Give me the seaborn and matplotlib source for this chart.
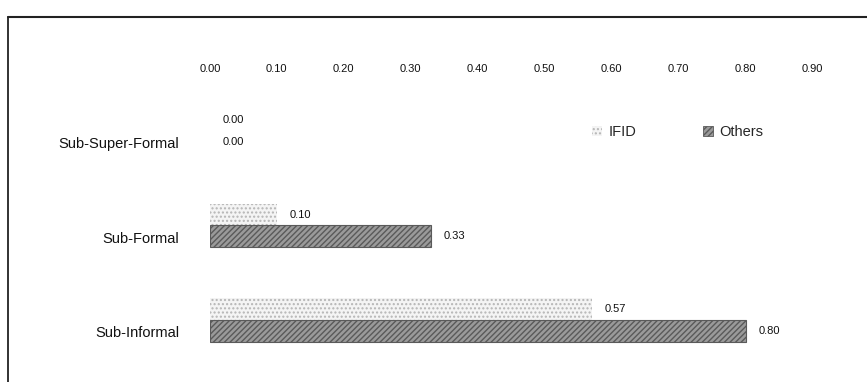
import matplotlib
matplotlib.use("Agg")
import matplotlib.pyplot as plt
import matplotlib.transforms as mtransforms
from matplotlib.lines import Line2D
from matplotlib.patches import Patch
import pandas as pd
import seaborn as sns

# data
categories = ["Sub-Super-Formal", "Sub-Formal", "Sub-Informal"]
series = ["IFID", "Others"]
ifid_vals = [0.00, 0.10, 0.57]
others_vals = [0.00, 0.33, 0.80]
x_ticks = [0.00, 0.10, 0.20, 0.30, 0.40, 0.50, 0.60, 0.70, 0.80, 0.90]

df = pd.DataFrame({
    "category": categories * 2,
    "series": ["IFID"] * 3 + ["Others"] * 3,
    "value": ifid_vals + others_vals,
})

sns.set_style("white")
plt.rcParams["font.family"] = ["Liberation Sans", "DejaVu Sans"]

fig = plt.figure(figsize = (8.67, 3.82), dpi = 100)
ax = fig.add_axes([0.242, 0.014, 0.734, 0.777])

sns.barplot(data = df, y = "category", x = "value", hue = "series", orient = "h",
            order = categories, hue_order = series, width = 0.46,
            palette = {"IFID": "#f4f4f4", "Others": "#9a9a9a"},
            legend = False, ax = ax)

# hatch styles to mimic the printed fills
styles = {
    "IFID": dict(hatch = "....", edgecolor = "#b5b5b5", linewidth = 0),
    "Others": dict(hatch = "//////", edgecolor = "#5a5a5a", linewidth = 0.8),
}
for cont, name in zip(ax.containers, series):
    for p in cont:
        p.set_hatch(styles[name]["hatch"])
        p.set_edgecolor(styles[name]["edgecolor"])
        # zero-length bars should not leave a stray edge line
        p.set_linewidth(styles[name]["linewidth"] if p.get_width() > 0 else 0)
    ax.bar_label(cont, fmt = "%.2f", padding = 9, fontsize = 8, color = "#111111")

ax.set_xlim(0, 0.95)
ax.set_ylim(2.6, -0.54)
ax.xaxis.tick_top()
ax.set_xticks(x_ticks)
ax.set_xticklabels([f"{t:.2f}" for t in x_ticks], fontsize = 8, color = "#111111")
ax.tick_params(axis = "x", length = 0, pad = 4)
ax.tick_params(axis = "y", length = 0, pad = 22, labelsize = 10.5, labelcolor = "#111111")
ax.set_xlabel("")
ax.set_ylabel("")
for s in ax.spines.values():
    s.set_visible(False)

# category labels sit a little low in the original
shift = mtransforms.ScaledTranslation(0, -12 / 100, fig.dpi_scale_trans)
for lbl in ax.get_yticklabels():
    lbl.set_transform(lbl.get_transform() + shift)

handles = [
    Patch(facecolor = "#f4f4f4", edgecolor = "#b5b5b5", hatch = "....", linewidth = 0, label = "IFID"),
    Patch(facecolor = "#9a9a9a", edgecolor = "#5a5a5a", hatch = "//////", linewidth = 0.6, label = "Others"),
]
fig.legend(handles = handles, loc = "center left", bbox_to_anchor = (0.668, 0.655),
           ncol = 2, frameon = False, fontsize = 10.5, handlelength = 0.7, handleheight = 0.7,
           handletextpad = 0.4, columnspacing = 4.6)

# page frame (top and left edge of the scanned box)
fig.add_artist(Line2D([0.0092, 1.0], [0.955, 0.955], color = "#222222", linewidth = 1.5))
fig.add_artist(Line2D([0.0092, 0.0092], [0.0, 0.955], color = "#222222", linewidth = 1.3))

fig.savefig("out.png", dpi = 100)
